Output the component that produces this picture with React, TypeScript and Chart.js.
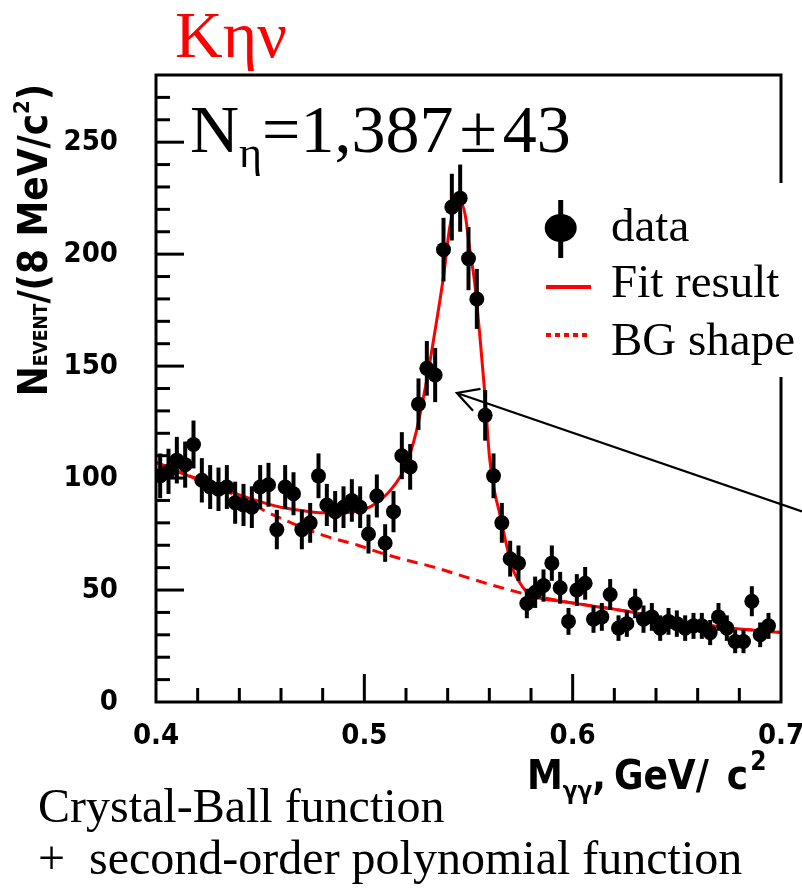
import React, { useEffect, useRef } from "react";
import { Chart, registerables } from "chart.js";

Chart.register(...registerables);

// ---------------- data ----------------
const massX = [
  0.402, 0.406, 0.41, 0.414, 0.418, 0.422, 0.426, 0.43, 0.434, 0.438,
  0.442, 0.446, 0.45, 0.454, 0.458, 0.462, 0.466, 0.47, 0.474, 0.478,
  0.482, 0.486, 0.49, 0.494, 0.498, 0.502, 0.506, 0.51, 0.514, 0.518,
  0.522, 0.526, 0.53, 0.534, 0.538, 0.542, 0.546, 0.55, 0.554, 0.558,
  0.562, 0.566, 0.57, 0.574, 0.578, 0.582, 0.586, 0.59, 0.594, 0.598,
  0.602, 0.606, 0.61, 0.614, 0.618, 0.622, 0.626, 0.63, 0.634, 0.638,
  0.642, 0.646, 0.65, 0.654, 0.658, 0.662, 0.666, 0.67, 0.674, 0.678,
  0.682, 0.686, 0.69, 0.694,
];
const counts = [
  101, 103, 108, 106, 115, 99, 96, 95, 96, 89,
  88, 87, 96, 97, 77, 96, 93, 77, 80, 101,
  88, 85, 87, 90, 87, 75, 92, 71, 85, 110,
  105, 133, 149, 146, 202, 221, 225, 198, 180, 128,
  101, 80, 64, 62, 44, 49, 52, 62, 51, 36,
  50, 53, 37, 38, 48, 33, 35, 44, 37, 38,
  33, 36, 35, 33, 34, 34, 31, 38, 33, 27,
  27, 45, 30, 34,
];
const errors = [
  10.0, 10.1, 10.4, 10.3, 10.7, 9.9, 9.8, 9.7, 9.8, 9.4,
  9.4, 9.3, 9.8, 9.8, 8.8, 9.8, 9.6, 8.8, 8.9, 10.0,
  9.4, 9.2, 9.3, 9.5, 9.3, 8.7, 9.6, 8.4, 9.2, 10.5,
  10.2, 11.5, 12.2, 12.1, 14.2, 14.9, 15.0, 14.1, 13.4, 11.3,
  10.0, 8.9, 8.0, 7.9, 6.6, 7.0, 7.2, 7.9, 7.1, 6.0,
  7.1, 7.3, 6.1, 6.2, 6.9, 5.7, 5.9, 6.6, 6.1, 6.2,
  5.7, 6.0, 5.9, 5.7, 5.8, 5.8, 5.6, 6.2, 5.7, 5.2,
  5.2, 6.7, 5.5, 5.8,
];

const fitX = [
  0.4, 0.41, 0.42, 0.43, 0.44, 0.45, 0.46, 0.47, 0.48, 0.49,
  0.5, 0.506, 0.511, 0.515, 0.519, 0.522, 0.525, 0.5275, 0.53, 0.5345,
  0.538, 0.541, 0.544, 0.5465, 0.5485, 0.5505, 0.553, 0.5555, 0.558, 0.56,
  0.5625, 0.565, 0.568, 0.571, 0.5745, 0.579, 0.586, 0.594, 0.61, 0.626,
  0.642, 0.658, 0.674, 0.69, 0.7,
];
const fitY = [
  107, 103, 99.5, 96, 92.5, 89.5, 87, 85.5, 84.5, 84.5,
  86, 89, 93, 97.5, 103.5, 111, 121, 132, 144, 169,
  190, 212, 222, 223, 217, 203, 187, 163, 136, 110,
  94, 84, 71, 60, 53.5, 48.2, 46, 45, 42.8, 40.5,
  37.5, 35.2, 33.2, 31.8, 31,
];

const bgX = [
  0.4, 0.42, 0.44, 0.453, 0.465, 0.48, 0.497, 0.51, 0.536, 0.557,
  0.571, 0.578, 0.594, 0.61, 0.626, 0.642, 0.658, 0.674, 0.69, 0.7,
];
const bgY = [
  107, 99.5, 91.5, 85, 80, 74.5, 70, 66, 59.5, 53.4,
  49.7, 48, 45.2, 42.8, 40.5, 37.5, 35.2, 33.2, 31.8, 31,
];

const xTickLabels = [0.4, 0.5, 0.6, 0.7];
const yTickLabels = [0, 50, 100, 150, 200, 250];
const X_MIN = 0.4;
const X_MAX = 0.7;
const Y_MIN = 0;
const Y_MAX = 280;

// arrow annotation (data coordinates): tail -> tip
const arrowTail = { x: 0.7101, y: 85.1 };
const arrowTip = { x: 0.5444, y: 138.0 };

// ---------------- styling ----------------
const SANS = "'DejaVu Sans Condensed', 'DejaVu Sans', sans-serif";
const SERIF = "'Liberation Serif', 'Times New Roman', serif";
const RED = "#ff0000";

type Run = { t: string; font: string; dy?: number; gap?: number };

function drawRuns(ctx: CanvasRenderingContext2D, runs: Run[], x: number, y: number, color = "#000") {
  let cx = x;
  ctx.save();
  ctx.fillStyle = color;
  ctx.textAlign = "left";
  ctx.textBaseline = "alphabetic";
  for (const r of runs) {
    ctx.font = r.font;
    cx += r.gap || 0;
    ctx.fillText(r.t, cx, y + (r.dy || 0));
    cx += ctx.measureText(r.t).width;
  }
  ctx.restore();
  return cx - x;
}

function runsWidth(ctx: CanvasRenderingContext2D, runs: Run[]) {
  let w = 0;
  ctx.save();
  for (const r of runs) {
    ctx.font = r.font;
    w += ctx.measureText(r.t).width + (r.gap || 0);
  }
  ctx.restore();
  return w;
}

export default function App() {
  const ref = useRef<HTMLCanvasElement>(null);

  useEffect(() => {
    const canvas = ref.current;
    if (!canvas) return;

    const decor = {
      id: "decor",
      beforeDraw(chart: any) {
        const ctx = chart.ctx as CanvasRenderingContext2D;
        ctx.save();
        ctx.fillStyle = "#fff";
        ctx.fillRect(0, 0, chart.width, chart.height);
        ctx.restore();
      },
      beforeDatasetDraw(chart: any, args: any) {
        if (args.index !== 2) return;
        const ctx = chart.ctx as CanvasRenderingContext2D;
        const xs = chart.scales.x;
        const ys = chart.scales.y;
        ctx.save();
        ctx.strokeStyle = "#000";
        ctx.lineWidth = 4;
        massX.forEach((m, i) => {
          const px = xs.getPixelForValue(m);
          ctx.beginPath();
          ctx.moveTo(px, ys.getPixelForValue(counts[i] - errors[i]));
          ctx.lineTo(px, ys.getPixelForValue(counts[i] + errors[i]));
          ctx.stroke();
        });
        ctx.restore();
      },
      afterDatasetsDraw(chart: any) {
        const ctx = chart.ctx as CanvasRenderingContext2D;
        const xs = chart.scales.x;
        const ys = chart.scales.y;
        const a = chart.chartArea;

        // frame
        ctx.save();
        ctx.strokeStyle = "#000";
        ctx.lineWidth = 3;
        ctx.lineCap = "square";
        ctx.strokeRect(a.left, a.top, a.right - a.left, a.bottom - a.top);

        // y ticks (inside, left)
        ctx.lineCap = "butt";
        for (let v = 10; v < Y_MAX; v += 10) {
          const p = ys.getPixelForValue(v);
          const len = v % 50 === 0 ? 28 : 14;
          ctx.beginPath();
          ctx.moveTo(a.left, p);
          ctx.lineTo(a.left + len, p);
          ctx.stroke();
        }
        // x ticks (inside, bottom)
        for (let k = 1; k < 15; k++) {
          const v = X_MIN + k * 0.02;
          const p = xs.getPixelForValue(v);
          const len = k % 5 === 0 ? 28 : 14;
          ctx.beginPath();
          ctx.moveTo(p, a.bottom);
          ctx.lineTo(p, a.bottom - len);
          ctx.stroke();
        }
        ctx.restore();

        // arrow
        const tx = xs.getPixelForValue(arrowTip.x);
        const ty = ys.getPixelForValue(arrowTip.y);
        const sx = xs.getPixelForValue(arrowTail.x);
        const sy = ys.getPixelForValue(arrowTail.y);
        const ang = Math.atan2(sy - ty, sx - tx);
        ctx.save();
        ctx.strokeStyle = "#000";
        ctx.lineWidth = 2.2;
        ctx.beginPath();
        ctx.moveTo(sx, sy);
        ctx.lineTo(tx, ty);
        const hl = 24;
        const spread = 0.5;
        ctx.moveTo(tx + hl * Math.cos(ang - spread), ty + hl * Math.sin(ang - spread));
        ctx.lineTo(tx, ty);
        ctx.lineTo(tx + hl * Math.cos(ang + spread), ty + hl * Math.sin(ang + spread));
        ctx.stroke();
        ctx.restore();

        // legend box (white, hides frame part)
        ctx.save();
        ctx.fillStyle = "#fff";
        ctx.fillRect(540, 183, 262, 194);
        // data marker
        ctx.fillStyle = "#000";
        ctx.strokeStyle = "#000";
        ctx.lineWidth = 5;
        ctx.beginPath();
        ctx.moveTo(560.7, 200);
        ctx.lineTo(560.7, 258);
        ctx.stroke();
        ctx.beginPath();
        ctx.ellipse(560.7, 228, 16, 14, 0, 0, Math.PI * 2);
        ctx.fill();
        // fit line
        ctx.strokeStyle = RED;
        ctx.lineWidth = 4;
        ctx.beginPath();
        ctx.moveTo(546, 287);
        ctx.lineTo(591, 287);
        ctx.stroke();
        // bg dotted
        ctx.setLineDash([5, 4]);
        ctx.beginPath();
        ctx.moveTo(546, 335);
        ctx.lineTo(591, 335);
        ctx.stroke();
        ctx.setLineDash([]);
        ctx.restore();
        drawRuns(ctx, [{ t: "data", font: `47px ${SERIF}` }], 611, 241);
        drawRuns(ctx, [{ t: "Fit result", font: `47px ${SERIF}` }], 611, 297);
        drawRuns(ctx, [{ t: "BG shape", font: `47px ${SERIF}` }], 611, 355);

        // title Kην
        drawRuns(ctx, [{ t: "Kην", font: `66px ${SERIF}` }], 175, 57, RED);

        // N_eta = 1,387 ± 43
        drawRuns(
          ctx,
          [
            { t: "N", font: `68px ${SERIF}` },
            { t: "η", font: `44px ${SERIF}`, dy: 15 },
            { t: "=1,387", font: `68px ${SERIF}` },
            { t: "±", font: `68px ${SERIF}`, gap: 6 },
            { t: "43", font: `68px ${SERIF}`, gap: 6 },
          ],
          190,
          152
        );

        // x axis title
        drawRuns(
          ctx,
          [
            { t: "M", font: `bold 40px ${SANS}` },
            { t: "γγ", font: `bold 24px ${SANS}`, dy: 10 },
            { t: ",", font: `bold 40px ${SANS}` },
            { t: "GeV/", font: `bold 40px ${SANS}`, gap: 8 },
            { t: "c", font: `bold 40px ${SANS}`, gap: 18 },
            { t: "2", font: `bold 26px ${SANS}`, dy: -19, gap: 2 },
          ],
          527,
          789
        );

        // bottom notes
        drawRuns(ctx, [{ t: "Crystal-Ball function", font: `48px ${SERIF}` }], 38, 822);
        drawRuns(ctx, [{ t: "+  second-order polynomial function", font: `48px ${SERIF}` }], 38, 874);

        // y axis title (rotated)
        const yRuns: Run[] = [
          { t: "N", font: `bold 40px ${SANS}` },
          { t: "EVENT", font: `bold 19px ${SANS}` },
          { t: "/(8 MeV/c", font: `bold 40px ${SANS}` },
          { t: "2", font: `bold 22px ${SANS}`, dy: -18 },
          { t: ")", font: `bold 40px ${SANS}` },
        ];
        const w = runsWidth(ctx, yRuns);
        ctx.save();
        ctx.translate(47, 240);
        ctx.rotate(-Math.PI / 2);
        drawRuns(ctx, yRuns, -w / 2, 0);
        ctx.restore();
      },
    };

    const tickFont = { family: SANS, weight: "bold" as const, size: 29 };

    const chart = new Chart(canvas, {
      type: "scatter",
      data: {
        datasets: [
          {
            type: "line",
            label: "Fit result",
            data: fitX.map((x, i) => ({ x, y: fitY[i] })),
            borderColor: RED,
            borderWidth: 3,
            pointRadius: 0,
            fill: false,
            cubicInterpolationMode: "monotone",
            order: 3,
          } as any,
          {
            type: "line",
            label: "BG shape",
            data: bgX.map((x, i) => ({ x, y: bgY[i] })),
            borderColor: RED,
            borderWidth: 3,
            borderDash: [11, 7],
            pointRadius: 0,
            fill: false,
            cubicInterpolationMode: "monotone",
            order: 2,
          } as any,
          {
            type: "scatter",
            label: "data",
            data: massX.map((x, i) => ({ x, y: counts[i] })),
            backgroundColor: "#000",
            borderColor: "#000",
            borderWidth: 0,
            pointRadius: 7.5,
            order: 1,
          } as any,
        ],
      },
      options: {
        responsive: false,
        animation: false,
        devicePixelRatio: 1,
        layout: { padding: { left: 0, top: 75, right: 21, bottom: 0 } },
        plugins: { legend: { display: false }, tooltip: { enabled: false } },
        scales: {
          x: {
            type: "linear",
            min: X_MIN,
            max: X_MAX,
            grid: { display: false, drawTicks: false },
            border: { display: false },
            ticks: {
              font: tickFont,
              color: "#000",
              padding: 17,
              maxRotation: 0,
              callback: (v: any) => Number(v).toFixed(1),
            },
            afterBuildTicks: (s: any) => {
              s.ticks = xTickLabels.map((v) => ({ value: v }));
            },
            afterFit: (s: any) => {
              s.height = 188;
              s.paddingLeft = 0;
              s.paddingRight = 0;
            },
          },
          y: {
            type: "linear",
            min: Y_MIN,
            max: Y_MAX,
            grid: { display: false, drawTicks: false },
            border: { display: false },
            ticks: {
              font: tickFont,
              color: "#000",
              padding: 38,
              callback: (v: any) => String(v),
            },
            afterBuildTicks: (s: any) => {
              s.ticks = yTickLabels.map((v) => ({ value: v }));
            },
            afterFit: (s: any) => {
              s.width = 156;
              s.paddingTop = 0;
              s.paddingBottom = 0;
            },
          },
        },
      },
      plugins: [decor],
    });

    return () => chart.destroy();
  }, []);

  return (
    <div style={{ position: "absolute", left: 0, top: 0, width: 802, height: 890, background: "#fff" }}>
      <canvas ref={ref} width={802} height={890} style={{ display: "block", width: 802, height: 890 }} />
    </div>
  );
}
